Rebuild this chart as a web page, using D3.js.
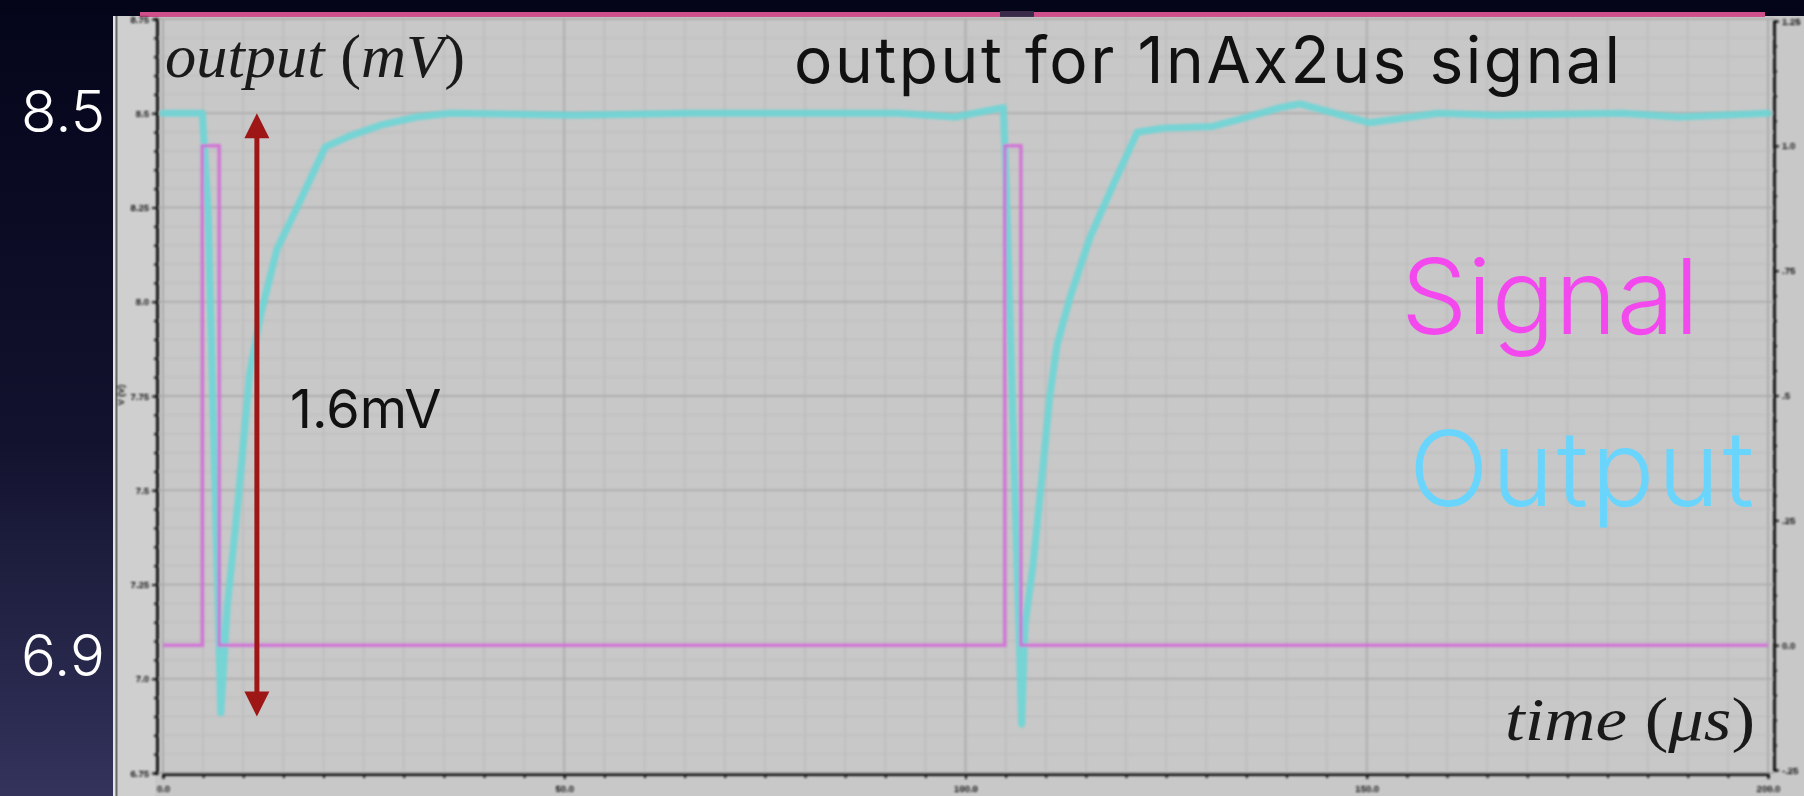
<!DOCTYPE html>
<html><head><meta charset="utf-8">
<script src="https://cdn.jsdelivr.net/npm/d3@7"></script>
<style>
html,body{margin:0;padding:0;background:#06061a;overflow:hidden}
svg{display:block}
</style></head><body>
<svg id="chart" width="1804" height="796"></svg>
<script>
// time axis (µs)
const timeTicks = [0, 50, 100, 150, 200];
const timeTickLabels = ["0.0", "50.0", "100.0", "150.0", "200.0"];
// left axis: amplifier output
const outputTicks = [6.75, 7.0, 7.25, 7.5, 7.75, 8.0, 8.25, 8.5, 8.75];
const outputTickLabels = ["6.75", "7.0", "7.25", "7.5", "7.75", "8.0", "8.25", "8.5", "8.75"];
// right axis: input current
const signalTicks = [-0.25, 0, 0.25, 0.5, 0.75, 1.0, 1.25];
const signalTickLabels = ["-.25", "0.0", ".25", ".5", ".75", "1.0", "1.25"];

// input current: two 2 µs pulses, 100 µs apart
const signalTime  = [0, 4.9, 4.9, 7.0, 7.0, 104.9, 104.9, 106.9, 106.9, 200];
const signalValue = [0, 0, 1, 1, 0, 0, 1, 1, 0, 0];

// amplifier output
const outputTime = [0, 4.9, 5.6, 7.2, 8.0, 9.35, 10.8, 12.1, 14.2, 16.7, 20.2, 23.3, 27.4, 31.6, 35.8,
  51.3, 65.7, 80.0, 91.5, 98.7, 104.7, 105.05, 105.9, 106.5, 107.0, 107.4, 108.4, 109.5, 110.5, 111.4,
  113.0, 115.5, 118.4, 121.4, 124.6, 130.8, 135.1, 139.2, 141.7, 150.3, 158.9, 166.1, 181.8, 189.0, 200];
const outputValue = [8.50, 8.50, 8.25, 6.91, 7.19, 7.47, 7.81, 7.96, 8.14, 8.25, 8.41, 8.44, 8.47, 8.49, 8.50,
  8.495, 8.50, 8.50, 8.50, 8.49, 8.515, 8.33, 7.69, 7.25, 6.88, 7.14, 7.30, 7.53, 7.75, 7.885,
  8.01, 8.17, 8.31, 8.45, 8.46, 8.465, 8.49, 8.515, 8.525, 8.475, 8.50, 8.495, 8.50, 8.49, 8.50];

// levels marked beside the plot and the swing arrow
const levelLabels = ["8.5", "6.9"];
const swingFrom = 8.5, swingTo = 6.9, swingTime = 11.7;

const svg = d3.select("#chart");
const W = 1804, H = 796;

const defs = svg.append("defs");
const bg = defs.append("linearGradient").attr("id", "bgGrad").attr("x1", 0).attr("y1", 0).attr("x2", 0).attr("y2", 1);
bg.append("stop").attr("offset", "0%").attr("stop-color", "#04041a");
bg.append("stop").attr("offset", "55%").attr("stop-color", "#12122e");
bg.append("stop").attr("offset", "100%").attr("stop-color", "#33335c");
defs.append("filter").attr("id", "soft").attr("x", "-5%").attr("y", "-5%").attr("width", "110%").attr("height", "110%")
  .append("feGaussianBlur").attr("stdDeviation", 0.8);

// slide background and the plot window
svg.append("rect").attr("width", W).attr("height", H).attr("fill", "url(#bgGrad)");
svg.append("rect").attr("x", 0).attr("y", 0).attr("width", W).attr("height", 13).attr("fill", "#05051a");
svg.append("rect").attr("x", 113).attr("y", 16).attr("width", W - 113).attr("height", H - 16).attr("fill", "#c8c8c8");
svg.append("rect").attr("x", 113).attr("y", 16).attr("width", 42).attr("height", H - 16).attr("fill", "#cfcfcf");
svg.append("line").attr("x1", 114).attr("x2", 114).attr("y1", 16).attr("y2", H).attr("stroke", "#e4e4e4").attr("stroke-width", 2);
svg.append("line").attr("x1", 116.5).attr("x2", 116.5).attr("y1", 16).attr("y2", H).attr("stroke", "#6a6a6a").attr("stroke-width", 2);
svg.append("rect").attr("x", 140).attr("y", 12).attr("width", 1625).attr("height", 5).attr("fill", "#cf4f8a");
svg.append("rect").attr("x", 1000).attr("y", 11).attr("width", 34).attr("height", 6).attr("fill", "#3a2a4a");

const x = d3.scaleLinear().domain([0, 200]).range([163, 1768]);
const yOut = d3.scaleLinear().domain([6.75, 8.75]).range([773, 19]);
const ySig = d3.scaleLinear().domain([-0.25, 1.25]).range([770, 21]);

const plot = svg.append("g").attr("filter", "url(#soft)");

// grid
const minorY = d3.range(0, 41).map(i => 6.75 + i * 0.05);
const minorX = d3.range(0, 41).map(i => i * 5);
const grid = plot.append("g");
grid.selectAll(".gy").data(minorY).join("line")
  .attr("x1", 157).attr("x2", 1774).attr("y1", d => yOut(d)).attr("y2", d => yOut(d))
  .attr("stroke", "#bcbcbc").attr("stroke-width", 1);
grid.selectAll(".gx").data(minorX).join("line")
  .attr("y1", 19).attr("y2", 773).attr("x1", d => x(d)).attr("x2", d => x(d))
  .attr("stroke", "#bababa").attr("stroke-width", 1.2);
grid.selectAll(".gY").data(outputTicks).join("line")
  .attr("x1", 157).attr("x2", 1774).attr("y1", d => yOut(d)).attr("y2", d => yOut(d))
  .attr("stroke", "#a9a9a9").attr("stroke-width", 1.6);
grid.selectAll(".gX").data(timeTicks).join("line")
  .attr("y1", 19).attr("y2", 773).attr("x1", d => x(d)).attr("x2", d => x(d))
  .attr("stroke", "#a9a9a9").attr("stroke-width", 1.6);

function styleAxis(g) {
  g.select(".domain").attr("stroke", "#151515").attr("stroke-width", 3);
  g.selectAll(".tick line").attr("stroke", "#151515").attr("stroke-width", 2);
  g.selectAll(".tick text").attr("fill", "#111").attr("font-family", "Liberation Sans, Arial, sans-serif")
    .attr("font-weight", "bold").attr("font-size", 9.5);
}

// left axis (output)
const leftMinor = plot.append("g").attr("transform", "translate(157,0)")
  .call(d3.axisLeft(yOut).tickValues(minorY).tickSize(3).tickFormat(""));
styleAxis(leftMinor);
const leftAxis = plot.append("g").attr("transform", "translate(157,0)")
  .call(d3.axisLeft(yOut).tickValues(outputTicks).tickSize(5).tickSizeOuter(0)
    .tickFormat((d, i) => outputTickLabels[i]).tickPadding(3));
styleAxis(leftAxis);
plot.append("text").attr("transform", "translate(124,395) rotate(-90)")
  .attr("text-anchor", "middle").attr("font-family", "Liberation Sans, Arial, sans-serif")
  .attr("font-weight", "bold").attr("font-size", 9).attr("fill", "#111").text("V (V)");

// bottom axis (time)
const bottomMinor = plot.append("g").attr("transform", "translate(0,774)")
  .call(d3.axisBottom(x).tickValues(minorX).tickSize(4).tickFormat(""));
styleAxis(bottomMinor);
const bottomAxis = plot.append("g").attr("transform", "translate(0,774)")
  .call(d3.axisBottom(x).tickValues(timeTicks).tickSize(5).tickSizeOuter(0)
    .tickFormat((d, i) => timeTickLabels[i]).tickPadding(6));
styleAxis(bottomAxis);

// right axis (signal)
const sigMinor = d3.range(0, 31).map(i => -0.25 + i * 0.05);
const rightMinor = plot.append("g").attr("transform", "translate(1774,0)")
  .call(d3.axisRight(ySig).tickValues(sigMinor).tickSize(3).tickFormat(""));
styleAxis(rightMinor);
const rightAxis = plot.append("g").attr("transform", "translate(1774,0)")
  .call(d3.axisRight(ySig).tickValues(signalTicks).tickSize(5).tickSizeOuter(0)
    .tickFormat((d, i) => signalTickLabels[i]).tickPadding(3));
styleAxis(rightAxis);

// traces
const outputData = outputTime.map((t, i) => ({ t, v: outputValue[i] }));
const signalData = signalTime.map((t, i) => ({ t, v: signalValue[i] }));

const traces = svg.append("g").attr("filter", "url(#soft)");
traces.append("path").datum(outputData)
  .attr("d", d3.line().x(d => x(d.t)).y(d => yOut(d.v)))
  .attr("fill", "none").attr("stroke", "#6dd5d6").attr("stroke-width", 7)
  .attr("stroke-linejoin", "round").attr("stroke-linecap", "round").attr("opacity", 0.9);
traces.append("path").datum(signalData)
  .attr("d", d3.line().x(d => x(d.t)).y(d => ySig(d.v)))
  .attr("fill", "none").attr("stroke", "#d468d8").attr("stroke-width", 3.5)
  .attr("stroke-linejoin", "miter").attr("opacity", 0.85);

// slide annotations
const sans = "Inter, 'Noto Sans', 'Liberation Sans', sans-serif";
const serif = "'Liberation Serif', 'DejaVu Serif', serif";

svg.append("text").attr("x", 794).attr("y", 83).attr("font-family", sans).attr("font-size", 64)
  .attr("fill", "#111").attr("textLength", 826).attr("lengthAdjust", "spacing")
  .text("output for 1nAx2us signal");

const yLab = svg.append("text").attr("x", 165).attr("y", 77).attr("font-family", serif)
  .attr("font-size", 61).attr("fill", "#1a1a1a").attr("textLength", 300).attr("lengthAdjust", "spacingAndGlyphs");
yLab.append("tspan").attr("font-style", "italic").text("output ");
yLab.append("tspan").text("(");
yLab.append("tspan").attr("font-style", "italic").text("mV");
yLab.append("tspan").text(")");

const xLab = svg.append("text").attr("x", 1505).attr("y", 740).attr("font-family", serif)
  .attr("font-size", 61).attr("fill", "#1a1a1a").attr("textLength", 250).attr("lengthAdjust", "spacingAndGlyphs");
xLab.append("tspan").attr("font-style", "italic").text("time ");
xLab.append("tspan").text("(");
xLab.append("tspan").attr("font-style", "italic").text("μs");
xLab.append("tspan").text(")");

svg.append("text").attr("x", 1401).attr("y", 334).attr("font-family", sans).attr("font-weight", 300)
  .attr("font-size", 105).attr("fill", "#f348ee").attr("textLength", 298).attr("lengthAdjust", "spacing")
  .text("Signal");
svg.append("text").attr("x", 1409).attr("y", 506).attr("font-family", sans).attr("font-weight", 300)
  .attr("font-size", 105).attr("fill", "#6ad5fc").attr("textLength", 345).attr("lengthAdjust", "spacing")
  .text("Output");

// swing arrow
const ax = x(swingTime), yTop = yOut(swingFrom), yBot = yOut(swingTo);
const head = 25, half = 12.5, arrowColor = "#9e1616";
svg.append("line").attr("x1", ax).attr("x2", ax).attr("y1", yTop + head - 2).attr("y2", yBot - head + 2)
  .attr("stroke", arrowColor).attr("stroke-width", 5);
svg.append("path").attr("d", `M${ax},${yTop} L${ax - half},${yTop + head} L${ax + half},${yTop + head} Z`).attr("fill", arrowColor);
svg.append("path").attr("d", `M${ax},${yBot} L${ax - half},${yBot - head} L${ax + half},${yBot - head} Z`).attr("fill", arrowColor);
svg.append("text").attr("x", 290).attr("y", 428).attr("font-family", sans).attr("font-size", 54)
  .attr("fill", "#111").text(d3.format(".1f")(swingFrom - swingTo) + "mV");

// level labels on the dark margin
svg.append("text").attr("x", 21).attr("y", 132).attr("font-family", sans).attr("font-weight", 300)
  .attr("font-size", 58).attr("fill", "#ffffff").text(levelLabels[0]);
svg.append("text").attr("x", 21).attr("y", 676).attr("font-family", sans).attr("font-weight", 300)
  .attr("font-size", 58).attr("fill", "#ffffff").text(levelLabels[1]);
</script>
</body></html>
